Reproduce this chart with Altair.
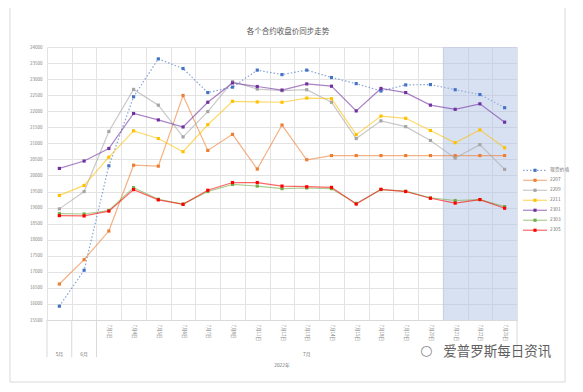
import altair as alt
import pandas as pd

cats = ["5月", "6月", "7月1日", "7月4日", "7月5日", "7月6日", "7月7日", "7月8日", "7月11日",
        "7月12日", "7月13日", "7月14日", "7月15日", "7月18日", "7月19日", "7月20日",
        "7月21日", "7月22日", "7月25日"]

names = ["现货价格", "2207", "2209", "2211", "2301", "2303", "2305"]
colors = ["#4472C4", "#ED7D31", "#A5A5A5", "#FFC000", "#7030A0", "#70AD47", "#FF0000"]

spot = [15930, 17050, 20300, 22450, 23630, 23330, 22580, 22750, 23280, 23140, 23280, 23050, 22860, 22630, 22820, 22830, 22670, 22520, 22110]
c2207 = [16620, 17380, 18270, 20320, 20290, 22490, 20780, 21280, 20200, 21570, 20490, 20620, 20620, 20620, 20620, 20620, 20620, 20620, 20620]
c2209 = [18960, 19500, 21370, 22680, 22190, 21200, 21990, 22920, 22690, 22640, 22670, 22280, 21150, 21700, 21520, 21090, 20540, 20960, 20190]
c2211 = [19380, 19690, 20570, 21390, 21150, 20740, 21580, 22310, 22290, 22280, 22410, 22390, 21270, 21850, 21780, 21400, 21020, 21420, 20860]
c2301 = [20220, 20450, 20840, 21930, 21730, 21510, 22280, 22880, 22770, 22660, 22850, 22780, 22010, 22710, 22580, 22190, 22060, 22230, 21660]
c2303 = [18810, 18800, 18910, 19620, 19260, 19110, 19500, 19720, 19670, 19590, 19610, 19590, 19130, 19560, 19510, 19300, 19220, 19250, 19030]
c2305 = [18750, 18740, 18890, 19560, 19240, 19100, 19540, 19780, 19780, 19670, 19650, 19630, 19110, 19570, 19500, 19290, 19140, 19250, 18980]

y_ticks = list(range(15500, 24001, 500))
shaded = ["7月21日", "7月22日", "7月25日"]
groups = ["5月", "6月", "7月"]
group_at = ["5月", "6月", "7月13日"]
title_text = "各个合约收盘价同步走势"

series_vals = [spot, c2207, c2209, c2211, c2301, c2303, c2305]
rows = []
for n, vals in zip(names, series_vals):
    for c, v in zip(cats, vals):
        rows.append({"cat": c, "series": n, "value": v})
df = pd.DataFrame(rows)

W, H = 470, 273
FONT = "Noto Sans CJK SC"
TXT = "#707070"

xscale = alt.Scale(type="band", domain=cats, paddingInner=0, paddingOuter=0)
yscale = alt.Scale(domain=[15500, 24000], nice=False, zero=False)
cscale = alt.Scale(domain=names, range=colors)

xaxis = alt.Axis(title=None, labelAngle=90, labelFontSize=4.5, labelColor="#808080",
                 grid=True, gridColor="#E3E3E3", ticks=False, tickBand="extent",
                 domain=True, domainColor="#D9D9D9", labelPadding=4,
                 labelExpr="test(/日/, '' + datum.label) ? datum.label : ''")
yaxis = alt.Axis(values=y_ticks, tickCount=40, format="d", title=None, labelFontSize=4.5,
                 labelColor="#808080", grid=True, gridColor="#E3E3E3",
                 domain=False, ticks=False, labelPadding=5)

spot_df = df[df.series == "现货价格"]
other_df = df[df.series != "现货价格"]

lines_spot = alt.Chart(spot_df).mark_line(strokeWidth=1.2, opacity=0.65, strokeDash=[1.5, 2]).encode(
    x=alt.X("cat:N", scale=xscale, axis=xaxis),
    y=alt.Y("value:Q", scale=yscale, axis=yaxis),
    color=alt.Color("series:N", scale=cscale, legend=None),
)
shade = alt.Chart(pd.DataFrame({"cat": shaded})).mark_rect(color="#A9BDE3", opacity=0.45).encode(
    x=alt.X("cat:N", scale=xscale, axis=xaxis),
    y=alt.datum(24000, scale=yscale), y2=alt.datum(15500),
)
lines_other = alt.Chart(other_df).mark_line(strokeWidth=1.2, opacity=0.6).encode(
    x=alt.X("cat:N", scale=xscale),
    y=alt.Y("value:Q", scale=yscale),
    color=alt.Color("series:N", scale=cscale, legend=None),
)
points = alt.Chart(df).mark_point(shape="square", filled=True, size=10, opacity=1).encode(
    x=alt.X("cat:N", scale=xscale),
    y=alt.Y("value:Q", scale=yscale),
    color=alt.Color("series:N", scale=cscale, legend=None),
)

sep_start = alt.Chart(pd.DataFrame({"cat": ["5月", "6月", "7月1日"]})).mark_rule(
    color="#D9D9D9", strokeWidth=1
).encode(x=alt.X("cat:N", scale=xscale, bandPosition=0),
         y=alt.datum(15500), y2=alt.datum(14340))
sep_end = alt.Chart(pd.DataFrame({"cat": ["7月25日"]})).mark_rule(
    color="#D9D9D9", strokeWidth=1
).encode(x=alt.X("cat:N", scale=xscale, bandPosition=1),
         y=alt.datum(15500), y2=alt.datum(14340))

grp = alt.Chart(pd.DataFrame({"label": groups, "cat": group_at})).mark_text(
    fontSize=4.8, color=TXT, font=FONT, baseline="middle"
).encode(x=alt.X("cat:N", scale=xscale), y=alt.datum(14420), text="label:N")

year = alt.Chart(pd.DataFrame({"t": ["2022年"], "cat": ["7月12日"]})).mark_text(
    fontSize=4.8, color=TXT, font=FONT, baseline="middle"
).encode(x=alt.X("cat:N", scale=xscale), y=alt.datum(14060), text="t:N")

wm = alt.Chart(pd.DataFrame({"t": ["爱普罗斯每日资讯"], "cat": ["7月21日"]})).mark_text(
    fontSize=13.5, color="#5f5f5f", font=FONT, align="left", baseline="middle", dx=-12
).encode(x=alt.X("cat:N", scale=xscale), y=alt.datum(14500), text="t:N")

icon = alt.Chart(pd.DataFrame({"t": ["○"], "cat": ["7月20日"]})).mark_text(
    fontSize=14, color="#8a8a8a", font="DejaVu Sans", baseline="middle", dx=-4
).encode(x=alt.X("cat:N", scale=xscale), y=alt.datum(14540), text="t:N")

ttl = alt.Chart(pd.DataFrame({"t": [title_text]})).mark_text(
    fontSize=7.5, color="#595959", font=FONT, baseline="middle", align="center"
).encode(x=alt.value(241), y=alt.value(-15), text="t:N")

leg_y = [20161 - 311 * i for i in range(len(names))]
leg_df = pd.DataFrame({"series": names, "ly": leg_y})
leg_line_spot = alt.Chart(leg_df[leg_df.series == "现货价格"]).mark_rule(
    strokeWidth=1.2, opacity=0.65, strokeDash=[1.5, 2]
).encode(x=alt.value(476), x2=alt.value(500), y=alt.Y("ly:Q", scale=yscale),
         color=alt.Color("series:N", scale=cscale, legend=None))
leg_line = alt.Chart(leg_df[leg_df.series != "现货价格"]).mark_rule(strokeWidth=1.2, opacity=0.6).encode(
    x=alt.value(476), x2=alt.value(500), y=alt.Y("ly:Q", scale=yscale),
    color=alt.Color("series:N", scale=cscale, legend=None))
leg_pt = alt.Chart(leg_df).mark_point(shape="square", filled=True, size=10, opacity=1).encode(
    x=alt.value(488), y=alt.Y("ly:Q", scale=yscale),
    color=alt.Color("series:N", scale=cscale, legend=None))
leg_txt = alt.Chart(leg_df).mark_text(align="left", baseline="middle", fontSize=4.8,
                                      color=TXT, font=FONT).encode(
    x=alt.value(503), y=alt.Y("ly:Q", scale=yscale), text="series:N")

frame = alt.Chart(pd.DataFrame({"a": [0]})).mark_rect(
    fillOpacity=0, stroke="#D9D9D9", strokeWidth=1
).encode(x=alt.value(-37), x2=alt.value(518), y=alt.value(-41), y2=alt.value(335))

chart = alt.layer(
    lines_spot, shade, lines_other, points, sep_start, sep_end, grp, year, wm, icon, ttl,
    leg_line_spot, leg_line, leg_pt, leg_txt, frame
).properties(
    width=W, height=H,
    autosize=alt.AutoSizeParams(type="none"),
    padding={"left": 39, "top": 39, "right": 58, "bottom": 64},
).configure(font=FONT).configure_view(stroke=None)

chart.save("out.html", embed_options={"renderer": "svg", "actions": False})
